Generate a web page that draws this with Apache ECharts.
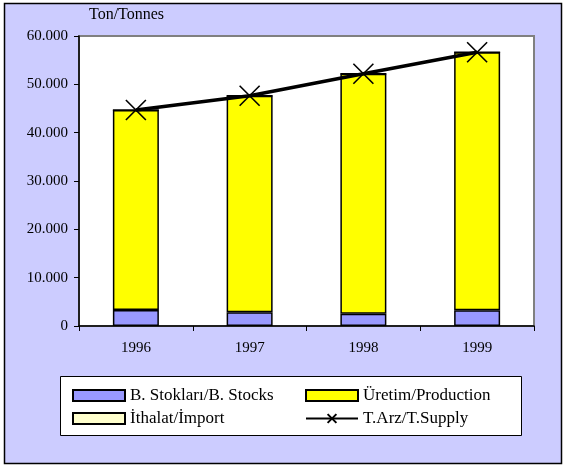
<!DOCTYPE html>
<html>
<head>
<meta charset="utf-8">
<script src="https://cdn.jsdelivr.net/npm/echarts@6/dist/echarts.min.js"></script>
<style>
  html, body { margin: 0; padding: 0; background: #fff; }
  #main { width: 566px; height: 466px; }
</style>
</head>
<body>
<div id="main"></div>
<script>
var years = ['1996', '1997', '1998', '1999'];
var stocks = [3300, 2850, 2550, 3250];
var production = [41400, 44800, 49650, 53400];
var imports = [0, 0, 0, 0];
var supply = [44700, 47650, 52200, 56650];
var yTicks = { min: 0, max: 60000, step: 10000 };

var serif = 'Liberation Serif';

// 60000 -> 60.000
var fmt = function (v) {
  return String(v).replace(/\B(?=(\d{3})+(?!\d))/g, '.');
};

var chart = echarts.init(document.getElementById('main'));

var barStyle = function (c) {
  return { color: c, borderColor: '#000', borderWidth: 1.5 };
};
var legendText = { fontFamily: serif, fontSize: 17, color: '#000', letterSpacing: 0.9 };

chart.setOption({
  animation: false,
  textStyle: { fontFamily: serif },
  graphic: [
    { type: 'rect', z: -10, shape: { x: 4.5, y: 3.5, width: 557, height: 460 },
      style: { fill: '#CCCCFF', stroke: '#000', lineWidth: 1.5 } },
    { type: 'rect', z: -5, shape: { x: 60.5, y: 376.5, width: 461, height: 59 },
      style: { fill: '#fff', stroke: '#000', lineWidth: 1 } },
    { type: 'text', left: 89, top: 7,
      style: { text: 'Ton/Tonnes', font: '16px "Liberation Serif"', fill: '#000' } }
  ],
  grid: {
    left: 79, right: 32, top: 36, bottom: 140,
    show: true, backgroundColor: '#fff', borderColor: '#808080', borderWidth: 2
  },
  legend: [
    {
      orient: 'vertical', left: 67, top: 382, itemWidth: 52, itemHeight: 11, itemGap: 6,
      icon: 'rect', textStyle: legendText, itemStyle: { borderWidth: 2 },
      data: ['B. Stokları/B. Stocks', 'İthalat/İmport']
    },
    {
      orient: 'vertical', left: 300, top: 382, itemWidth: 52, itemHeight: 11, itemGap: 6,
      textStyle: legendText,
      data: [
        { name: 'Üretim/Production', icon: 'rect', itemStyle: { borderWidth: 2 } },
        'T.Arz/T.Supply'
      ]
    }
  ],
  xAxis: {
    type: 'category',
    data: years,
    axisLine: { lineStyle: { color: '#000', width: 1.5 } },
    axisTick: { show: true, length: 5, lineStyle: { color: '#000' } },
    axisLabel: { color: '#000', fontSize: 15, margin: 15, fontFamily: serif }
  },
  yAxis: {
    type: 'value',
    min: yTicks.min, max: yTicks.max, interval: yTicks.step,
    axisLine: { show: true, lineStyle: { color: '#000', width: 1.5 } },
    axisTick: { show: true, length: 5, lineStyle: { color: '#000' } },
    splitLine: { show: false },
    axisLabel: { color: '#000', fontSize: 15, margin: 11, fontFamily: serif, formatter: fmt }
  },
  series: [
    { name: 'B. Stokları/B. Stocks', type: 'bar', stack: 't', data: stocks,
      barWidth: 46, itemStyle: barStyle('#9999FF') },
    { name: 'Üretim/Production', type: 'bar', stack: 't', data: production,
      itemStyle: barStyle('#FFFF00') },
    { name: 'İthalat/İmport', type: 'bar', stack: 't', data: imports,
      itemStyle: barStyle('#FFFFCC') },
    { name: 'T.Arz/T.Supply', type: 'line', data: supply, z: 5,
      symbol: 'path://M0,0L10,10M10,0L0,10', symbolSize: 20,
      itemStyle: { color: '#000', borderColor: '#000', borderWidth: 1.6 },
      lineStyle: { color: '#000', width: 3.5 } }
  ]
});
</script>
</body>
</html>
